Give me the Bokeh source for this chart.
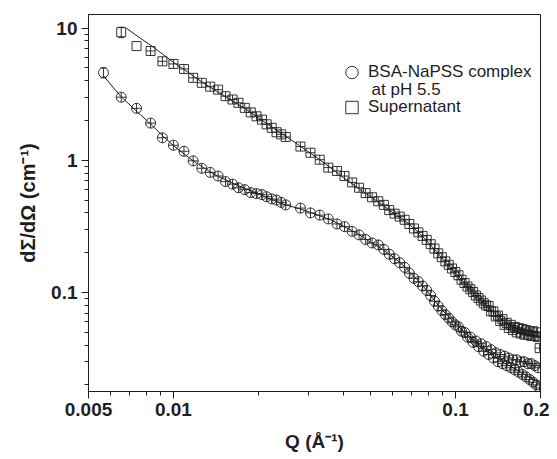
from bokeh.plotting import figure
from bokeh.models import (ColumnDataSource, FixedTicker, Legend, LegendItem, Label,
                          Whisker, TeeHead, Range1d, CustomJSTickFormatter)
from bokeh.embed import file_html
from bokeh.resources import INLINE

# ---------------- data ----------------
q_complex = [0.00565, 0.00653, 0.0074, 0.0083, 0.00914, 0.0100, 0.0109, 0.01175, 0.0126, 0.0135,
             0.0144, 0.0153, 0.0162, 0.0170, 0.0179, 0.0188, 0.0197, 0.0206, 0.0214, 0.0223,
             0.0232, 0.0241, 0.0250,
             0.0282, 0.0306, 0.0330, 0.0354, 0.0380, 0.0404, 0.0430, 0.0455, 0.0480, 0.0506,
             0.0532, 0.0557, 0.0582, 0.0608, 0.0634, 0.0660, 0.0686, 0.0712, 0.0738, 0.0764,
             0.0790, 0.0816, 0.0842, 0.0868, 0.0894, 0.0920, 0.0946, 0.0972, 0.0998, 0.1024,
             0.1050, 0.1076, 0.1102, 0.1128, 0.1154, 0.1180, 0.1206, 0.1232, 0.1258, 0.1284,
             0.1310, 0.1336, 0.1362, 0.1388, 0.1414, 0.1440, 0.1466, 0.1492, 0.1518, 0.1544,
             0.1570, 0.1596, 0.1622, 0.1648, 0.1674, 0.1700, 0.1726, 0.1752, 0.1778, 0.1804,
             0.1830, 0.1856, 0.1882, 0.1908, 0.1934, 0.1960, 0.1986]
i_complex = [4.6, 3.0, 2.47, 1.91, 1.48, 1.30, 1.17, 0.99, 0.87, 0.81,
             0.76, 0.69, 0.66, 0.62, 0.60, 0.57, 0.56, 0.55, 0.53, 0.51,
             0.50, 0.48, 0.46,
             0.435, 0.40, 0.385, 0.36, 0.33, 0.315, 0.29, 0.273, 0.252, 0.237,
             0.229, 0.212, 0.195, 0.180, 0.168, 0.155, 0.140, 0.128, 0.121, 0.112,
             0.104, 0.095, 0.086, 0.079, 0.073, 0.068, 0.064, 0.060, 0.057, 0.055,
             0.051, 0.050, 0.046, 0.046, 0.042, 0.043, 0.039, 0.041, 0.036, 0.039,
             0.034, 0.037, 0.032, 0.035, 0.030, 0.034, 0.029, 0.033, 0.028, 0.032,
             0.027, 0.031, 0.026, 0.031, 0.025, 0.030, 0.024, 0.030, 0.023, 0.029,
             0.022, 0.029, 0.021, 0.028, 0.020, 0.027, 0.019]
err_complex = [0.4]  # error bar of the first (low-Q) point

q_super = q_complex[1:]
i_super = [9.3, 7.3, 6.7, 5.6, 5.35, 4.9, 4.2, 3.85, 3.6, 3.42,
           3.05, 2.88, 2.72, 2.49, 2.30, 2.15, 2.03, 1.87, 1.76, 1.63,
           1.57, 1.50,
           1.27, 1.14, 1.01, 0.88, 0.83, 0.76, 0.68, 0.62, 0.565, 0.525,
           0.49, 0.46, 0.42, 0.395, 0.375, 0.355, 0.33, 0.305, 0.285, 0.268,
           0.25, 0.232, 0.215, 0.198, 0.185, 0.172, 0.162, 0.152, 0.143, 0.135,
           0.125, 0.118, 0.111, 0.106, 0.101, 0.095, 0.091, 0.087, 0.083, 0.080,
           0.079, 0.072, 0.072, 0.066, 0.067, 0.061, 0.063, 0.057, 0.059, 0.054,
           0.057, 0.052, 0.055, 0.050, 0.054, 0.049, 0.053, 0.048, 0.052, 0.048,
           0.051, 0.047, 0.051, 0.047, 0.050, 0.046, 0.038]
err_super = [0.85]

q_fit_complex = [0.00565, 0.0065, 0.0074, 0.0083, 0.0092, 0.010, 0.011, 0.012, 0.013, 0.014,
                 0.016, 0.018, 0.020, 0.022, 0.025, 0.028, 0.032, 0.036, 0.040, 0.045,
                 0.050, 0.055, 0.060, 0.065, 0.070, 0.075, 0.080, 0.085, 0.090, 0.100,
                 0.110, 0.120, 0.130, 0.140, 0.150, 0.160, 0.175, 0.190, 0.200]
i_fit_complex = [4.35, 3.05, 2.35, 1.88, 1.52, 1.29, 1.10, 0.96, 0.86, 0.78,
                 0.68, 0.61, 0.56, 0.51, 0.46, 0.43, 0.39, 0.355, 0.318, 0.278,
                 0.240, 0.213, 0.186, 0.162, 0.137, 0.119, 0.100, 0.085, 0.073, 0.058,
                 0.048, 0.041, 0.036, 0.032, 0.029, 0.027, 0.024, 0.022, 0.021]

q_fit_super = [0.0068, 0.0075, 0.0083, 0.0092, 0.010, 0.011, 0.012, 0.013, 0.014, 0.016,
               0.018, 0.020, 0.022, 0.025, 0.028, 0.032, 0.036, 0.040, 0.045, 0.050,
               0.055, 0.060, 0.065, 0.070, 0.075, 0.080, 0.090, 0.100, 0.110, 0.120,
               0.130, 0.140, 0.150, 0.160, 0.175, 0.190, 0.200]
i_fit_super = [10.0, 8.6, 7.4, 6.3, 5.5, 4.8, 4.2, 3.75, 3.4, 2.85,
               2.45, 2.10, 1.82, 1.52, 1.29, 1.06, 0.88, 0.74, 0.62, 0.53,
               0.46, 0.40, 0.36, 0.315, 0.277, 0.24, 0.18, 0.14, 0.112, 0.092,
               0.078, 0.067, 0.060, 0.055, 0.050, 0.047, 0.046]

x_major = [0.005, 0.01, 0.1, 0.2]
x_minor = [0.006, 0.007, 0.008, 0.009, 0.02, 0.03, 0.04, 0.05, 0.06, 0.07, 0.08, 0.09]
y_major = [0.1, 1, 10]
y_minor = [0.02, 0.03, 0.04, 0.05, 0.06, 0.07, 0.08, 0.09,
           0.2, 0.3, 0.4, 0.5, 0.6, 0.7, 0.8, 0.9,
           2, 3, 4, 5, 6, 7, 8, 9]

label_complex = "BSA-NaPSS complex"
label_complex_2 = "at pH 5.5"
label_super = "Supernatant"

# ---------------- figure ----------------
INK = "#1e1e1e"
FONT = "Liberation Sans"

p = figure(width=549, height=458, x_axis_type="log", y_axis_type="log",
           x_range=Range1d(0.005, 0.2), y_range=Range1d(0.01786, 12.65),
           output_backend="svg", toolbar_location=None,
           min_border_left=88, min_border_right=9, min_border_top=14, min_border_bottom=67)
p.grid.visible = False
p.outline_line_color = INK
p.outline_line_width = 1
p.background_fill_color = "white"
p.border_fill_color = "white"

fmt = CustomJSTickFormatter(code="return tick.toString();")
for ax, maj, mnr in ((p.xaxis[0], x_major, x_minor), (p.yaxis[0], y_major, y_minor)):
    ax.ticker = FixedTicker(ticks=maj, minor_ticks=mnr)
    ax.formatter = fmt
    ax.major_tick_out = 7
    ax.major_tick_in = 0
    ax.minor_tick_out = 4
    ax.minor_tick_in = 0
    ax.axis_line_color = INK
    ax.major_tick_line_color = INK
    ax.minor_tick_line_color = INK
    ax.major_label_text_font = FONT
    ax.major_label_text_font_style = "bold"
    ax.major_label_text_font_size = "19px"
    ax.major_label_text_color = INK
    ax.axis_label_text_font = FONT
    ax.axis_label_text_font_style = "bold"
    ax.axis_label_text_font_size = "19px"
    ax.axis_label_text_color = INK

p.xaxis.axis_label = "Q (Å⁻¹)"
p.yaxis.axis_label = "dΣ/dΩ (cm⁻¹)"
p.yaxis.axis_label_text_font_size = "20px"
p.xaxis.major_label_standoff = 4
p.xaxis.axis_label_standoff = 12
p.yaxis.major_label_standoff = 4
p.yaxis.axis_label_standoff = 9

# fitted curves
p.line(q_fit_complex, i_fit_complex, line_color=INK, line_width=1)
p.line(q_fit_super, i_fit_super, line_color=INK, line_width=1)

mk = dict(fill_color=None, line_color=INK, line_width=0.9)

# complex (circles)
src_c0 = ColumnDataSource(dict(x=q_complex[:1], y=i_complex[:1],
                               up=[v + e for v, e in zip(i_complex[:1], err_complex)],
                               lo=[v - e for v, e in zip(i_complex[:1], err_complex)]))
src_c = ColumnDataSource(dict(x=q_complex[1:], y=i_complex[1:]))
r_c0 = p.scatter("x", "y", source=src_c0, marker="circle", size=10, **mk)
p.scatter("x", "y", source=src_c, marker="circle_cross", size=10, **mk)
p.add_layout(Whisker(source=src_c0, base="x", upper="up", lower="lo", dimension="height",
                     line_color=INK, line_width=0.9,
                     upper_head=TeeHead(size=6, line_color=INK, line_width=0.9),
                     lower_head=TeeHead(size=6, line_color=INK, line_width=0.9)))

# supernatant (squares)
src_s0 = ColumnDataSource(dict(x=q_super[:2], y=i_super[:2]))
src_s = ColumnDataSource(dict(x=q_super[2:], y=i_super[2:]))
src_se = ColumnDataSource(dict(x=q_super[:1],
                               up=[v + e for v, e in zip(i_super[:1], err_super)],
                               lo=[v - e for v, e in zip(i_super[:1], err_super)]))
r_s0 = p.scatter("x", "y", source=src_s0, marker="square", size=9, **mk)
p.scatter("x", "y", source=src_s, marker="square_cross", size=9, **mk)
p.add_layout(Whisker(source=src_se, base="x", upper="up", lower="lo", dimension="height",
                     line_color=INK, line_width=0.9,
                     upper_head=TeeHead(size=6, line_color=INK, line_width=0.9),
                     lower_head=TeeHead(size=6, line_color=INK, line_width=0.9)))

# legend (glyph size in a legend is 0.4 * min(glyph_width, glyph_height))
legend = Legend(items=[LegendItem(label=label_complex, renderers=[r_c0]),
                       LegendItem(label=label_super, renderers=[r_s0])],
                location=(248, 268), orientation="vertical",
                label_text_font=FONT, label_text_font_size="17px", label_text_color=INK,
                glyph_width=31, glyph_height=32, label_height=32, label_standoff=1,
                spacing=3, padding=0, margin=0,
                border_line_alpha=0, background_fill_alpha=0)
p.add_layout(legend)

p.add_layout(Label(x=0.0504, y=3.4, text=label_complex_2, text_baseline="middle",
                   text_font=FONT, text_font_size="17px", text_color=INK))

open("out.html", "w").write(file_html(p, INLINE))
